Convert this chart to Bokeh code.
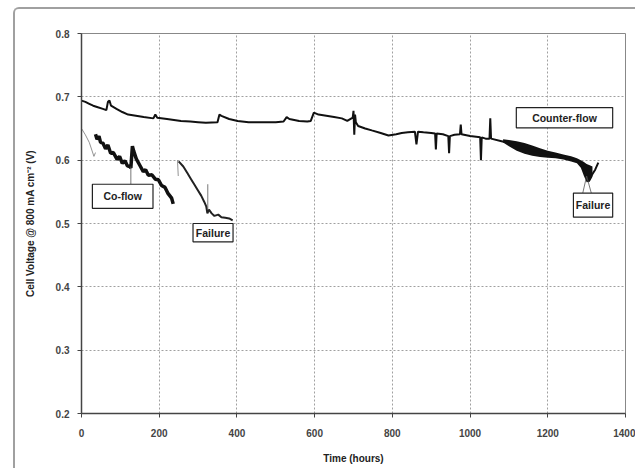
from bokeh.plotting import figure
from bokeh.models import Range1d, FixedTicker, Label
from bokeh.embed import file_html
from bokeh.resources import INLINE

# ---- data ----
x_ticks = [0, 200, 400, 600, 800, 1000, 1200, 1400]
y_ticks = [0.2, 0.3, 0.4, 0.5, 0.6, 0.7, 0.8]

counter_t = [0, 10, 20, 30, 40, 55, 64, 68, 72, 76, 90, 105, 120, 140, 160, 185, 190, 195,
             220, 256, 280, 300, 320, 350, 355, 360, 380, 402, 430, 470, 500, 520, 528, 535,
             560, 581, 590, 598, 610, 630, 650, 670, 684, 698, 700, 702, 704, 706, 712, 730,
             747, 770, 790, 810, 824, 840, 858, 862, 866, 880, 900, 910, 912, 914, 930, 944,
             946, 948, 960, 974, 976, 978, 1000, 1026, 1028, 1030, 1040, 1050, 1052, 1054,
             1081, 1100, 1150, 1200, 1250, 1280, 1295, 1305, 1315, 1322, 1330]
counter_v = [0.694, 0.692, 0.689, 0.686, 0.684, 0.681, 0.679, 0.692, 0.694, 0.686, 0.681, 0.676,
             0.672, 0.670, 0.668, 0.666, 0.672, 0.667, 0.665, 0.662, 0.661, 0.660, 0.659, 0.660,
             0.672, 0.670, 0.665, 0.662, 0.660, 0.660, 0.660, 0.661, 0.668, 0.665, 0.662, 0.661,
             0.662, 0.675, 0.672, 0.670, 0.668, 0.666, 0.662, 0.667, 0.678, 0.640, 0.672, 0.660,
             0.654, 0.650, 0.647, 0.643, 0.639, 0.641, 0.643, 0.644, 0.645, 0.625, 0.645, 0.644,
             0.643, 0.642, 0.617, 0.642, 0.641, 0.638, 0.611, 0.638, 0.640, 0.641, 0.656, 0.641,
             0.638, 0.636, 0.600, 0.636, 0.634, 0.634, 0.666, 0.634,
             0.630, 0.627, 0.617, 0.610, 0.604, 0.598, 0.585, 0.568, 0.578, 0.585, 0.596]

# envelope of the dense noisy stretch of the counter-flow trace
band_t = [1085, 1100, 1120, 1140, 1160, 1180, 1200, 1220, 1240, 1260, 1275, 1285, 1293,
          1300, 1308, 1315]
band_hi = [0.633, 0.632, 0.630, 0.627, 0.623, 0.619, 0.615, 0.612, 0.609, 0.606, 0.603,
           0.600, 0.597, 0.594, 0.592, 0.590]
band_lo = [0.628, 0.622, 0.615, 0.610, 0.607, 0.605, 0.604, 0.603, 0.601, 0.598, 0.595,
           0.588, 0.575, 0.565, 0.566, 0.574]

pre_t = [0, 10, 20, 32, 36]
pre_v = [0.650, 0.640, 0.628, 0.606, 0.612]

coflow1_t = [36, 40, 45, 49, 55, 62, 68, 75, 82, 92, 98, 105, 112, 118, 124, 127, 129, 131,
             134, 141, 150, 159, 165, 172, 181, 190, 198, 206, 215, 222, 232, 236]
coflow1_v = [0.641, 0.633, 0.638, 0.628, 0.627, 0.618, 0.624, 0.611, 0.612, 0.601, 0.606, 0.595,
             0.599, 0.591, 0.590, 0.588, 0.605, 0.622, 0.615, 0.602, 0.592, 0.582, 0.585, 0.576,
             0.577, 0.570, 0.569, 0.560, 0.557, 0.548, 0.540, 0.531]

restart_t = [247, 249]
restart_v = [0.600, 0.575]

coflow2_t = [250, 262, 272, 282, 290, 299, 308, 316, 321, 324, 328, 335, 342, 352, 360, 370,
             380, 389]
coflow2_v = [0.598, 0.590, 0.580, 0.570, 0.562, 0.553, 0.544, 0.534, 0.527, 0.516, 0.522, 0.516,
             0.512, 0.514, 0.510, 0.509, 0.508, 0.505]

# callouts: (text, left, right, bottom, top) in data units
callouts = [
    ("Co-flow", 28, 184, 0.524, 0.562),
    ("Failure", 287, 390, 0.471, 0.500),
    ("Counter-flow", 1119, 1367, 0.651, 0.683),
    ("Failure", 1266, 1367, 0.510, 0.548),
]
pointers = [  # (t0, v0, t1, v1)
    (127, 0.590, 127, 0.562),
    (325, 0.562, 325, 0.522),
    (1300, 0.575, 1290, 0.548),
    (1300, 0.575, 1312, 0.548),
]

FONT = "Liberation Sans"

# figure is offset by 13px / 7px so that its CSS border draws the scanned frame
p = figure(width=620, height=459, output_backend="svg", toolbar_location=None,
           x_range=Range1d(0, 1400), y_range=Range1d(0.2, 0.8),
           min_border_left=66, min_border_right=12, min_border_top=24, min_border_bottom=57)
p.styles = {"border-left": "2px solid #a0a0a0", "border-top": "2px solid #a0a0a0",
            "border-top-left-radius": "6px", "margin-left": "13px", "margin-top": "7px",
            "box-sizing": "content-box"}
p.background_fill_color = "white"
p.border_fill_color = "white"
p.outline_line_color = "#888888"
p.outline_line_width = 1

p.xaxis.ticker = FixedTicker(ticks=x_ticks)
p.yaxis.ticker = FixedTicker(ticks=y_ticks)
p.xaxis.minor_tick_line_color = None
p.yaxis.minor_tick_line_color = None
for ax in (p.xaxis, p.yaxis):
    ax.axis_line_color = "#444444"
    ax.axis_line_width = 1.5
    ax.major_tick_line_color = "#444444"
    ax.major_tick_in = 0
    ax.major_tick_out = 4
    ax.major_label_text_font = FONT
    ax.major_label_text_font_size = "10px"
    ax.major_label_text_font_style = "bold"
    ax.major_label_text_color = "#444444"
    ax.axis_label_text_font = FONT
    ax.axis_label_text_font_size = "10px"
    ax.axis_label_text_font_style = "bold"
    ax.axis_label_text_color = "#222222"
p.yaxis.formatter.use_scientific = False
p.xaxis.axis_label = "Time (hours)"
p.yaxis.axis_label = "Cell Voltage @ 800 mA cm\u207b\u00b2 (V)"
p.xaxis.major_label_standoff = 11
p.yaxis.major_label_standoff = 8
p.xaxis.axis_label_standoff = 13
p.yaxis.axis_label_standoff = 17

p.grid.grid_line_color = "#a0a0a0"
p.grid.grid_line_dash = "2 2"
p.grid.grid_line_width = 1

p.line(pre_t, pre_v, line_color="#777777", line_width=0.8)
p.line(restart_t, restart_v, line_color="#777777", line_width=0.8)
p.varea(x=band_t, y1=band_lo, y2=band_hi, fill_color="#111111")
p.line(counter_t, counter_v, line_color="#111111", line_width=2)
p.line(coflow1_t, coflow1_v, line_color="#111111", line_width=3.5)
p.line(coflow2_t, coflow2_v, line_color="#222222", line_width=2)

for (t0, v0, t1, v1) in pointers:
    p.segment(x0=[t0], y0=[v0], x1=[t1], y1=[v1], line_color="#555555", line_width=0.8)

for (txt, l, r, b, t) in callouts:
    p.quad(left=[l], right=[r], bottom=[b], top=[t], fill_color="white",
           line_color="#222222", line_width=1.2)
    p.add_layout(Label(x=(l + r) / 2, y=(b + t) / 2, text=txt, text_align="center",
                       text_baseline="middle", text_font=FONT, text_font_size="10.5px",
                       text_font_style="bold", text_color="#222222"))

open("out.html", "w").write(file_html(p, INLINE))
